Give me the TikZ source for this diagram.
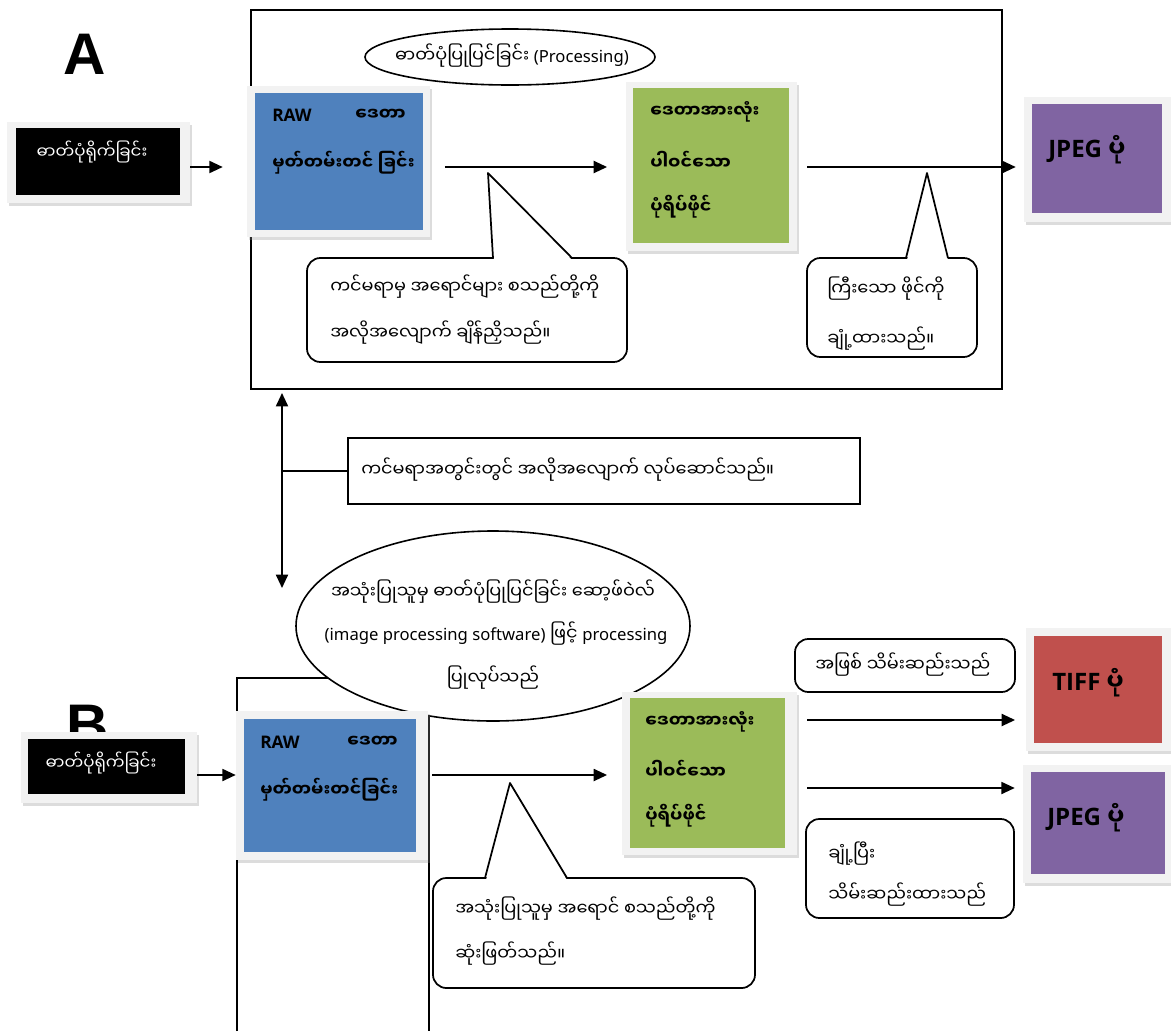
\documentclass[tikz,border=0pt]{standalone}
\usepackage{fontspec}
\setmainfont{Noto Sans}
\newfontfamily\my[Script=Myanmar]{Noto Sans Myanmar UI}
\newfontfamily\heavy{Liberation Sans}
\newfontfamily\latb{Open Sans}
\usetikzlibrary{arrows.meta,shapes.geometric,shadows,fit}
\definecolor{blueb}{HTML}{4F81BD}
\definecolor{greenb}{HTML}{9BBB59}
\definecolor{purpleb}{HTML}{8064A2}
\definecolor{redb}{HTML}{C0504D}
\definecolor{frameg}{HTML}{F2F2F2}
\begin{document}
\begin{tikzpicture}[x=0.75pt,y=-0.75pt,
  lw/.style={line width=1.5pt},
  frm/.style={fill=frameg, inner sep=0, draw=none, drop shadow={shadow xshift=1.5pt, shadow yshift=-2.5pt, opacity=0.3, fill=black!45}},
  inb/.style={inner sep=0, draw=none},
  arr/.style={line width=1.4pt, -{Triangle[length=10pt,width=9pt]}},
  cl/.style={draw, line width=1.3pt, rounded corners=10pt, fill=white, inner sep=0},
  tail/.style={line width=1.3pt, line join=round},
  tx/.style={inner sep=0, font=\my\fontsize{13.3}{15}\selectfont},
  btx/.style={inner sep=0, font=\my\bfseries\fontsize{13}{15}\selectfont},
  big/.style={inner sep=0, font=\latb\bfseries\fontsize{18}{20}\selectfont},
  letter/.style={inner sep=0, font=\heavy\bfseries\fontsize{44}{48}\selectfont},
]
\useasboundingbox (0,0) rectangle (1171,1032);
\fill[white] (0,0) rectangle (1171,1032);

% ---------------- Part A ----------------
\node[draw, lw, inner sep=0, fit={(251,10)(1002,389)}] (frameA) {};
\node[letter, anchor=base west] (letA) at (63,74) {A};
\node[ellipse, draw, line width=1.2pt, fill=white, minimum width=217.5pt, minimum height=42pt, inner sep=0] (ellA) at (510,57) {};
\node[tx] (ellAt) at (512,56) {ဓာတ်ပုံပြုပြင်ခြင်း {\rmfamily\fontsize{12.5}{15}\selectfont (Processing)}};

\node[frm, fit={(7,122)(190,203)}] (shootAo) {};
\node[inb, fill=black, fit={(16,128)(180,195)}] (shootA) {};
\node[inner sep=0, font=\my\fontsize{12.5}{15}\selectfont, text=white] (shootAt) at (92,152) {ဓာတ်ပုံရိုက်ခြင်း};

\node[frm, fit={(247,86)(430,237)}] (rawAo) {};
\node[inb, fill=blueb, fit={(255,93)(423,230)}] (rawA) {};
\node[btx, anchor=west] (rawA1) at (272,115) {{\latb RAW}};
\node[btx, anchor=east] (rawA2) at (406,115) {ဒေတာ};
\node[btx, anchor=west] (rawA3) at (272,163) {မှတ်တမ်းတင် ခြင်း};

\node[frm, fit={(626,82)(797,251)}] (grnAo) {};
\node[inb, fill=greenb, fit={(633,88)(789,243)}] (grnA) {};
\node[btx, anchor=west] (grnA1) at (650,112) {ဒေတာအားလုံး};
\node[btx, anchor=west] (grnA2) at (650,160) {ပါဝင်သော};
\node[btx, anchor=west] (grnA3) at (650,207) {ပုံရိပ်ဖိုင်};

\node[frm, fit={(1024,97)(1171,222)}] (jpgAo) {};
\node[inb, fill=purpleb, fit={(1032,104)(1162,213)}] (jpgA) {};
\node[big, anchor=base west] (jpgAt) at (1048,157) {JPEG {\my ပုံ}};

\coordinate (yA) at (0,167);
\draw[arr, shorten >=18pt] (shootAo.east |- yA) -- (rawAo.west |- yA);
\draw[arr, shorten <=11pt, shorten >=14pt] (rawAo.east |- yA) -- (grnAo.west |- yA);
\draw[arr, shorten <=7.5pt, shorten >=6pt] (grnAo.east |- yA) -- (jpgAo.west |- yA);

% callout 1
\node[cl, fit={(307,258)(627,362)}] (callA1) {};
\fill[white] (494,260) -- (488,173) -- (572,260) -- cycle;
\draw[tail] (493,258) -- (488,173) -- (572,258);
\node[tx, anchor=west] (callA1a) at (330,287) {ကင်မရာမှ အရောင်များ စသည်တို့ကို};
\node[tx, anchor=west] (callA1b) at (330,333) {အလိုအလျောက် ချိန်ညှိသည်။};

% callout 2
\node[cl, fit={(807,258)(977,357)}] (callA2) {};
\fill[white] (907,260) -- (927,173) -- (948,260) -- cycle;
\draw[tail] (906,258) -- (927,173) -- (948,258);
\node[tx, anchor=west] (callA2a) at (827,289) {ကြီးသော ဖိုင်ကို};
\node[tx, anchor=west] (callA2b) at (827,339) {ချုံ့ထားသည်။};

% ---------------- middle ----------------
\coordinate (dtop) at (282,393);
\coordinate (dbot) at (282,588);
\draw[line width=1.4pt, {Triangle[length=10pt,width=9pt]}-{Triangle[length=10pt,width=9pt]}] (dtop) -- (dbot);
\node[draw, lw, inner sep=0, fit={(348,438)(860,504)}] (midbox) {};
\node[tx, anchor=west] (midt) at (361,470) {ကင်မရာအတွင်းတွင် အလိုအလျောက် လုပ်ဆောင်သည်။};
\draw[line width=1.2pt] (midbox.west) -- (midbox.west -| dtop);

% ---------------- Part B ----------------
\draw[lw] (237,1031) -- (237,678) -- (428.5,678) -- (428.5,1031);
\node[letter, anchor=base west] (letB) at (66,745) {B};

\node[ellipse, draw, line width=1.2pt, fill=white, minimum width=295.5pt, minimum height=142.5pt, inner sep=0] (ellB) at (493,626) {};
\node[tx, align=center] (ellBt1) at (493,592) {အသုံးပြုသူမှ ဓာတ်ပုံပြုပြင်ခြင်း ဆော့ဖ်ဝဲလ်};
\node[tx, align=center] (ellBt2) at (496,634) {{\rmfamily\fontsize{12.5}{15}\selectfont (image processing software)} ဖြင့် {\rmfamily\fontsize{12.5}{15}\selectfont processing}};
\node[tx, align=center] (ellBt3) at (493,678) {ပြုလုပ်သည်};

\node[frm, fit={(21,732)(197,803)}] (shootBo) {};
\node[inb, fill=black, fit={(28,739)(185,794)}] (shootB) {};
\node[inner sep=0, font=\my\fontsize{12.5}{15}\selectfont, text=white] (shootBt) at (101,763) {ဓာတ်ပုံရိုက်ခြင်း};

\node[frm, fit={(236,711)(428,860)}] (rawBo) {};
\node[inb, fill=blueb, fit={(244,719)(416,852)}] (rawB) {};
\node[btx, anchor=west] (rawB1) at (260,742) {{\latb RAW}};
\node[btx, anchor=east] (rawB2) at (398,742) {ဒေတာ};
\node[btx, anchor=west] (rawB3) at (260,790) {မှတ်တမ်းတင်ခြင်း};

\node[frm, fit={(622,692)(797,855)}] (grnBo) {};
\node[inb, fill=greenb, fit={(630,698)(785,848)}] (grnB) {};
\node[btx, anchor=west] (grnB1) at (645,722) {ဒေတာအားလုံး};
\node[btx, anchor=west] (grnB2) at (645,769) {ပါဝင်သော};
\node[btx, anchor=west] (grnB3) at (645,816) {ပုံရိပ်ဖိုင်};

\node[frm, fit={(1026,628)(1171,751)}] (tifBo) {};
\node[inb, fill=redb, fit={(1034,636)(1162,743)}] (tifB) {};
\node[big, anchor=base west] (tifBt) at (1052,690) {TIFF {\my ပုံ}};

\node[frm, fit={(1023,765)(1171,883)}] (jpgBo) {};
\node[inb, fill=purpleb, fit={(1031,772)(1165,874)}] (jpgB) {};
\node[big, anchor=base west] (jpgBt) at (1047,825) {JPEG {\my ပုံ}};

\coordinate (yB) at (0,775);
\coordinate (yB1) at (0,720);
\coordinate (yB2) at (0,788);
\draw[arr] (shootBo.east |- yB) -- (rawBo.west |- yB);
\draw[arr, shorten <=3pt, shorten >=11pt] (rawBo.east |- yB) -- (grnBo.west |- yB);
\draw[arr, shorten <=7.5pt, shorten >=8pt] (grnBo.east |- yB1) -- (tifBo.west |- yB1);
\draw[arr, shorten <=7.5pt, shorten >=6pt] (grnBo.east |- yB2) -- (jpgBo.west |- yB2);

% callout 3
\node[cl, fit={(433,878)(755,988)}] (callB1) {};
\fill[white] (486,880) -- (510,783) -- (567,880) -- cycle;
\draw[tail] (485,878) -- (510,783) -- (567,878);
\node[tx, anchor=west] (callB1a) at (455,909) {အသုံးပြုသူမှ အရောင် စသည်တို့ကို};
\node[tx, anchor=west] (callB1b) at (455,954) {ဆုံးဖြတ်သည်။};

% callout 4
\node[cl, fit={(795,639)(1015,692)}] (callB2) {};
\node[tx, anchor=west] (callB2a) at (815,665) {အဖြစ် သိမ်းဆည်းသည်};

% callout 5
\node[cl, fit={(806,819)(1014,918)}] (callB3) {};
\node[tx, anchor=west] (callB3a) at (828,854) {ချုံ့ပြီး};
\node[tx, anchor=west] (callB3b) at (828,895) {သိမ်းဆည်းထားသည်};
\end{tikzpicture}
\end{document}
